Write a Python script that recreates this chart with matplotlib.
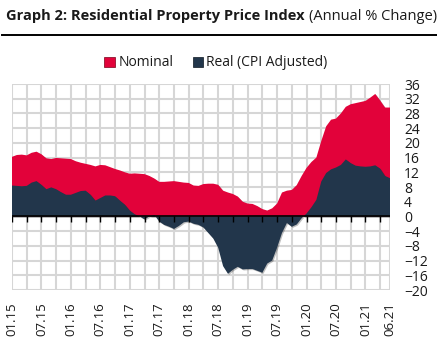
import matplotlib
matplotlib.use("Agg")
import matplotlib.pyplot as plt
import matplotlib.patheffects as pe
import numpy as np

plt.rcParams['font.family'] = ['Open Sans', 'DejaVu Sans']

# monthly values, 01.2015 .. 06.2021
nominal = [16.2, 16.7, 16.8, 16.6, 17.3, 17.6, 16.9, 15.8, 15.6, 15.9,
           15.8, 15.7, 15.6, 15.0, 14.6, 14.3, 14.0, 13.6, 14.0, 13.9,
           13.4, 12.9, 12.5, 12.0, 11.6, 11.7, 11.6, 11.5, 11.0, 10.3,
           9.4, 9.4, 9.5, 9.6, 9.4, 9.2, 9.1, 8.4, 8.3, 8.8,
           8.9, 8.9, 8.6, 7.0, 6.5, 6.1, 5.4, 4.0, 3.5, 3.4,
           2.8, 2.0, 1.6, 2.2, 3.5, 6.5, 7.0, 7.2, 8.5, 11.0,
           13.2, 14.8, 16.0, 20.5, 24.5, 26.3, 26.6, 28.0, 29.8, 30.5,
           30.8, 31.1, 31.4, 32.3, 33.3, 31.5, 29.6, 29.6]
real = [8.4, 8.3, 8.2, 8.3, 9.2, 9.6, 8.6, 7.4, 7.9, 7.4,
        6.6, 5.9, 5.9, 6.4, 6.9, 7.0, 5.9, 4.3, 5.0, 5.7,
        5.7, 5.5, 4.3, 3.2, 1.6, 0.6, 0.0, -0.8, 0.0, 0.4,
        -1.4, -2.3, -2.8, -3.4, -2.6, -1.6, -1.4, -2.0, -2.3, -3.0,
        -4.5, -6.0, -8.5, -13.5, -15.6, -14.5, -13.7, -14.4, -14.3, -14.3,
        -14.8, -15.3, -12.8, -12.0, -8.5, -4.5, -1.8, -2.8, -2.2, -0.5,
        0.8, 2.5, 4.5, 9.5, 11.8, 12.8, 13.3, 14.0, 15.5, 14.5,
        13.8, 13.6, 13.5, 13.6, 13.9, 13.0, 11.0, 10.4]
tick_pos = [0, 6, 12, 18, 24, 30, 36, 42, 48, 54, 60, 66, 72, 77]
tick_labels = ['01.15', '07.15', '01.16', '07.16', '01.17', '07.17', '01.18',
               '07.18', '01.19', '07.19', '01.20', '07.20', '01.21', '06.21']
y_ticks = [-20, -16, -12, -8, -4, 0, 4, 8, 12, 16, 20, 24, 28, 32, 36]

red = '#E2023A'
navy = '#22364B'
txt = '#1a1a1a'
gridc = '#d6d6d6'

months = np.arange(len(nominal))
minor = np.arange(0, 78, 3)

fig = plt.figure(figsize=(4.37, 3.64), dpi=100)
ax = fig.add_axes([12/437, 1 - 290/364, (390 - 12)/437, (290 - 84)/364])

# grid drawn by hand
ax.hlines(y_ticks, 0, 77, colors=gridc, lw=1.5, zorder=1)
ax.vlines(list(minor) + [77], -20, 36, colors=gridc, lw=1.5, zorder=1)

shadow = [pe.SimplePatchShadow(offset=(0.8, -0.8), shadow_rgbFace='k', alpha=0.25), pe.Normal()]
ax.fill_between(months, 0, nominal, color=red, lw=0, zorder=3, path_effects=shadow)
ax.fill_between(months, 0, real, color=navy, lw=0, zorder=4, path_effects=shadow)

ax.axhline(0, color='black', lw=1.2, zorder=5)
ax.plot(minor, np.zeros(len(minor)), ls='none', marker=3, ms=4, mew=1,
        color='black', zorder=5)

ax.set_xlim(0, 77)
ax.set_ylim(-20, 36)
ax.set_yticks(y_ticks)
ax.set_xticks(tick_pos)
ax.set_xticklabels(tick_labels, rotation=90, fontsize=9.5, color=txt)
ax.yaxis.tick_right()
ax.tick_params(axis='y', length=0, pad=10, labelsize=10, labelcolor=txt)
ax.tick_params(axis='x', which='both', length=0, pad=9)
for s in ax.spines.values():
    s.set_visible(False)
for lab in ax.get_yticklabels():
    lab.set_ha('left')

# title
t = fig.text(6/437, 1 - 16/364, 'Graph 2: Residential Property Price Index',
             fontsize=10.5, fontweight='bold', color=txt, va='center', ha='left')
fig.canvas.draw()
bb = t.get_window_extent()
fig.text((bb.x1 + 4)/437, 1 - 16/364, '(Annual % Change)', fontsize=10.5,
         color=txt, va='center', ha='left')
fig.add_artist(plt.Line2D([2/437, 1], [1 - 35/364, 1 - 35/364], color='black', lw=1.4))

# legend
handles = [plt.Rectangle((0, 0), 1, 1, color=red, ec='#7a0018', lw=0.5),
           plt.Rectangle((0, 0), 1, 1, color=navy, ec='#0d1620', lw=0.5)]
fig.legend(handles, ['Nominal', 'Real (CPI Adjusted)'], loc='center',
           bbox_to_anchor=(216/437, 1 - 63/364), ncol=2, frameon=False,
           fontsize=10, handlelength=0.75, handleheight=0.75, handletextpad=0.25,
           columnspacing=1.4, labelcolor=txt)

fig.savefig('out.png', dpi=100)
